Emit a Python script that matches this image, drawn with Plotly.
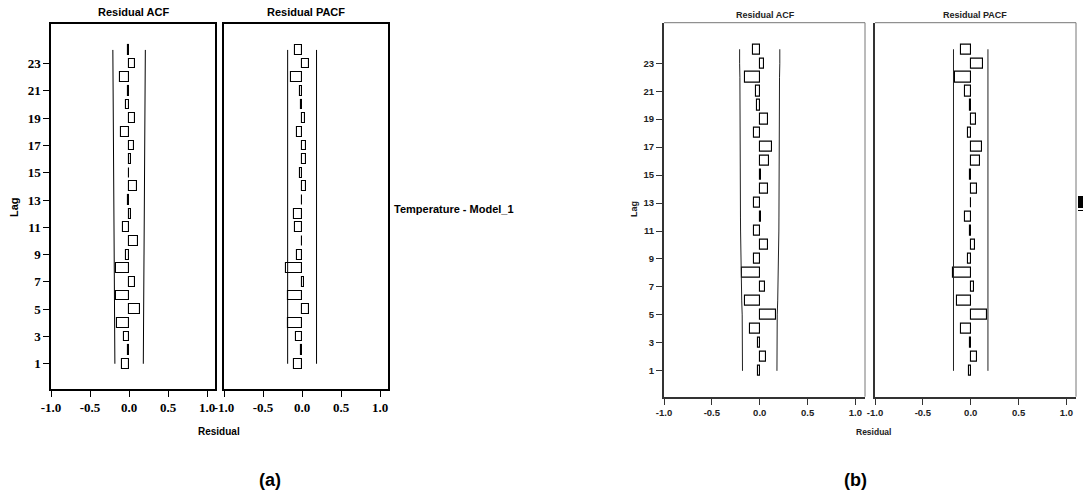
import plotly.graph_objects as go

W, H = 1083, 498

lags = list(range(1, 25))
ytick_vals = list(range(1, 24, 2))
xtick_vals = [-1.0, -0.5, 0.0, 0.5, 1.0]
xtick_text = ["-1.0", "-0.5", "0.0", "0.5", "1.0"]

# Panel (a)
acf_a = [-0.09, -0.01, -0.064, -0.15, 0.14, -0.17, 0.08, -0.17, -0.04, 0.11, -0.08, 0.02,
         -0.01, 0.10, 0.005, 0.03, 0.06, -0.10, 0.07, -0.04, -0.02, -0.12, 0.07, -0.01]
acf_a_lim = [0.182, 0.183, 0.183, 0.184, 0.188, 0.190, 0.193, 0.194, 0.198, 0.199, 0.200, 0.201,
             0.201, 0.202, 0.202, 0.203, 0.203, 0.204, 0.205, 0.205, 0.206, 0.207, 0.208, 0.208]
pacf_a = [-0.10, -0.02, -0.077, -0.175, 0.094, -0.18, 0.025, -0.21, -0.07, -0.005, -0.085, -0.11,
          0.005, 0.045, -0.03, 0.045, 0.045, -0.07, 0.04, -0.02, -0.03, -0.14, 0.09, -0.09]
pacf_a_lim = [0.185] * 24

# Panel (b)
acf_b = [-0.02, 0.063, -0.015, -0.105, 0.17, -0.157, 0.05, -0.185, -0.063, 0.087, -0.06, 0.017,
         -0.056, 0.087, 0.017, 0.098, 0.133, -0.056, 0.084, -0.028, -0.035, -0.157, 0.045, -0.073]
acf_b_lim = [0.180, 0.180, 0.181, 0.181, 0.183, 0.188, 0.192, 0.192, 0.198, 0.199, 0.200, 0.201,
             0.201, 0.202, 0.203, 0.203, 0.204, 0.206, 0.206, 0.207, 0.207, 0.207, 0.210, 0.210]
pacf_b = [-0.018, 0.063, -0.01, -0.10, 0.175, -0.147, 0.035, -0.18, -0.028, 0.049, -0.007, -0.056,
          0.007, 0.063, -0.005, 0.098, 0.115, -0.03, 0.056, -0.005, -0.06, -0.16, 0.133, -0.105]
pacf_b_lim = [0.18] * 24


def px(x):
    return x / W


def py(y):
    return 1 - y / H


fig = go.Figure()

panels = [
    # (suffix, values, limits, x0, x1, ytop, ybot, style)
    ("", acf_a, acf_a_lim, 51, 215, 24, 389, "a"),
    ("2", pacf_a, pacf_a_lim, 224, 388, 24, 389, "a"),
    ("3", acf_b, acf_b_lim, 664, 865, 22.7, 396.7, "b"),
    ("4", pacf_b, pacf_b_lim, 875, 1076, 22.7, 396.7, "b"),
]

for i, (suf, vals, lim, x0, x1, yt, yb, style) in enumerate(panels):
    xa = "x" + suf
    ya = "y" + suf
    lc = "black" if style == "a" else "#222"
    fig.add_trace(go.Bar(x=vals, y=lags, orientation="h", width=0.72,
                         marker=dict(color="white", line=dict(color="black", width=1.1)),
                         xaxis=xa, yaxis=ya, showlegend=False, hoverinfo="x+y"))
    fig.add_trace(go.Scatter(x=lim, y=lags, mode="lines", line=dict(color=lc, width=1),
                             xaxis=xa, yaxis=ya, showlegend=False))
    fig.add_trace(go.Scatter(x=[-v for v in lim], y=lags, mode="lines",
                             line=dict(color=lc, width=1),
                             xaxis=xa, yaxis=ya, showlegend=False))

    if style == "a":
        tfont = dict(family="Liberation Serif", size=13, color="black", weight="bold")
        axcol = "black"
        lw = 1.5
        mirror = True
    else:
        tfont = dict(family="Liberation Sans", size=9.5, color="#222", weight="bold")
        axcol = "#333"
        lw = 2
        mirror = False
    xkey = "xaxis" + suf
    ykey = "yaxis" + suf
    fig.update_layout(**{
        xkey: dict(domain=[px(x0), px(x1)], range=[-1.0, 1.1], anchor=ya,
                   tickvals=xtick_vals, ticktext=xtick_text, ticks="outside",
                   ticklen=6, tickwidth=1.2, tickcolor=axcol, automargin=False,
                   showline=True, linecolor=axcol, linewidth=lw, mirror=mirror,
                   showgrid=False, zeroline=False, tickfont=tfont, fixedrange=True),
        ykey: dict(domain=[py(yb), py(yt)], range=[-0.85, 25.9], anchor=xa,
                   tickvals=ytick_vals if suf in ("", "3") else [],
                   ticks="outside" if suf in ("", "3") else "",
                   ticklen=6, tickwidth=1.2, tickcolor=axcol, automargin=False,
                   showticklabels=suf in ("", "3"),
                   showline=True, linecolor=axcol, linewidth=lw, mirror=mirror,
                   showgrid=False, zeroline=False, tickfont=tfont, fixedrange=True),
    })
    if style == "b":
        # thin grey frame on top/right
        fig.add_shape(type="line", xref="paper", yref="paper",
                      x0=px(x0), x1=px(x1), y0=py(yt), y1=py(yt),
                      line=dict(color="#777", width=1))
        fig.add_shape(type="line", xref="paper", yref="paper",
                      x0=px(x1), x1=px(x1), y0=py(yt), y1=py(yb),
                      line=dict(color="#777", width=1))

annots = []


def ann(text, x, y, size, family="Liberation Sans", angle=0, xanchor="center", color="black"):
    annots.append(dict(text=text, x=px(x), y=py(y), xref="paper", yref="paper",
                       showarrow=False, textangle=angle, xanchor=xanchor, yanchor="middle",
                       font=dict(family=family, size=size, color=color, weight="bold")))


ann("Residual ACF", 133, 12, 11)
ann("Residual PACF", 306, 12, 11)
ann("Residual ACF", 765, 15, 9, color="#222")
ann("Residual PACF", 975, 15, 9, color="#222")
ann("Lag", 14, 207, 11, angle=-90)
ann("Lag", 634, 209, 9, angle=-90, color="#222")
ann("Residual", 219, 431, 10)
ann("Residual", 873, 432, 8.5, color="#222")
ann("Temperature - Model_1", 392, 209, 11, xanchor="left")
ann("(a)", 270, 480, 18)
ann("(b)", 855, 480, 18)

fig.add_shape(type="rect", xref="paper", yref="paper",
              x0=px(1078), x1=px(1083), y0=py(208), y1=py(196),
              fillcolor="black", line=dict(width=0))
fig.add_shape(type="line", xref="paper", yref="paper",
              x0=px(1078), x1=px(1083), y0=py(210.5), y1=py(210.5),
              line=dict(color="black", width=1))

fig.update_layout(width=W, height=H, margin=dict(l=0, r=0, t=0, b=0, autoexpand=False),
                  paper_bgcolor="white", plot_bgcolor="white",
                  annotations=annots, bargap=0, showlegend=False)

fig.write_html("out.html")
